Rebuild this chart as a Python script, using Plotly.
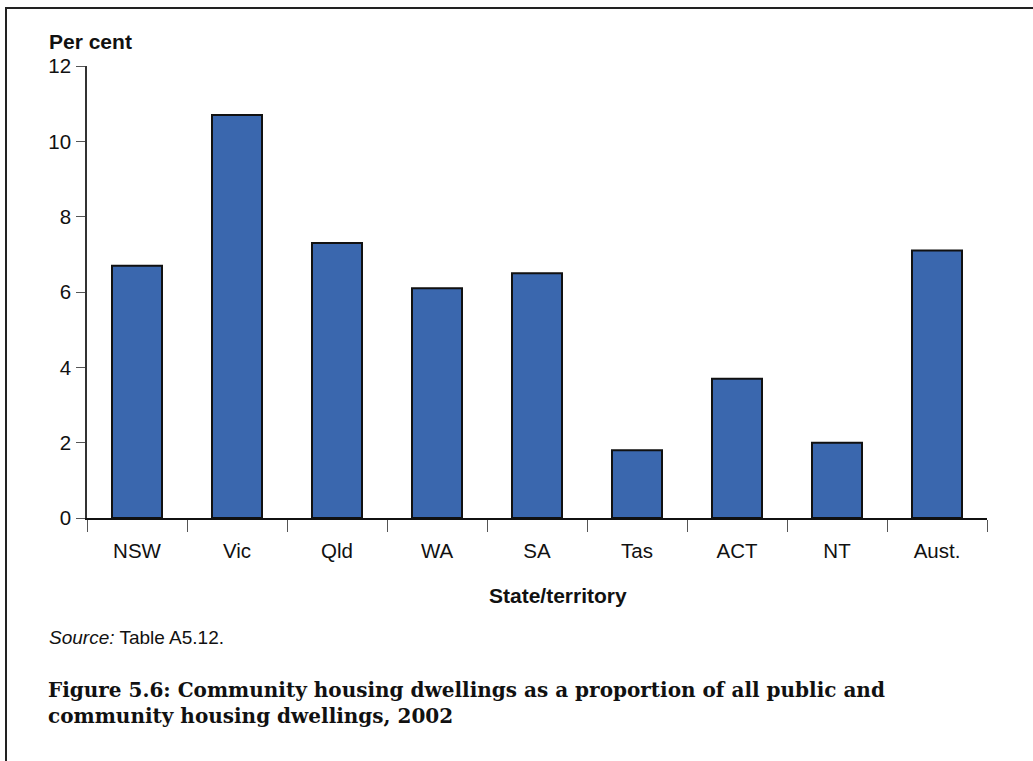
import plotly.graph_objects as go

# Community housing share by jurisdiction, 2002
states = ["NSW", "Vic", "Qld", "WA", "SA", "Tas", "ACT", "NT", "Aust."]
per_cent = [6.7, 10.7, 7.3, 6.1, 6.5, 1.8, 3.7, 2.0, 7.1]
y_ticks = [0, 2, 4, 6, 8, 10, 12]

W, H = 1033, 761
L, R, T, B = 87, 46, 66, 243
pw, ph = W - L - R, H - T - B


def px(x):
    return (x - L) / pw


def py(y):
    return (H - B - y) / ph


fig = go.Figure(
    go.Bar(
        x=states,
        y=per_cent,
        width=0.5,
        marker=dict(color="#3a67ae", line=dict(color="#111111", width=2)),
    )
)

fig.update_layout(
    width=W,
    height=H,
    margin=dict(l=L, r=R, t=T, b=B, pad=0),
    paper_bgcolor="white",
    plot_bgcolor="white",
    showlegend=False,
    font=dict(family="Liberation Sans, Arial, sans-serif", size=20, color="#111111"),
    bargap=0.5,
)

fig.update_xaxes(
    type="category",
    showgrid=False,
    showline=True,
    linecolor="#111111",
    linewidth=2,
    ticks="outside",
    tickson="boundaries",
    ticklen=12,
    tickwidth=1,
    tickcolor="#555555",
    tickfont=dict(size=20.5),
    ticklabelstandoff=13,
)

fig.update_yaxes(
    range=[0, 12],
    tickvals=y_ticks,
    showgrid=False,
    zeroline=False,
    showline=True,
    linecolor="#333333",
    linewidth=1.5,
    ticks="outside",
    ticklen=9,
    tickwidth=1,
    tickcolor="#555555",
    tickfont=dict(size=20.5),
    ticklabelstandoff=1,
)

annotations = [
    dict(text="<b>Per cent</b>", x=px(47), y=py(42), xanchor="left", yanchor="middle",
         font=dict(size=21)),
    dict(text="<b>State/territory</b>", x=px(558), y=py(595), xanchor="center",
         yanchor="middle", font=dict(size=21)),
    dict(text="<i>Source:</i> Table A5.12.", x=px(47), y=py(637), xanchor="left",
         yanchor="middle", font=dict(size=19)),
    dict(text="<b>Figure 5.6: Community housing dwellings as a proportion of all public and"
              "<br>community housing dwellings, 2002</b>",
         x=px(46), y=py(703), xanchor="left", yanchor="middle", align="left",
         font=dict(family="DejaVu Serif, Liberation Serif, serif", size=20, color="#111111")),
]
for a in annotations:
    a.update(xref="paper", yref="paper", showarrow=False)
fig.update_layout(annotations=annotations)

# Page frame: top and left rules
fig.add_shape(type="line", xref="paper", yref="paper",
              x0=px(6), x1=px(1040), y0=py(8), y1=py(8),
              line=dict(color="#222222", width=2))
fig.add_shape(type="line", xref="paper", yref="paper",
              x0=px(6), x1=px(6), y0=py(7), y1=py(770),
              line=dict(color="#222222", width=2))

fig.write_html("out.html")
